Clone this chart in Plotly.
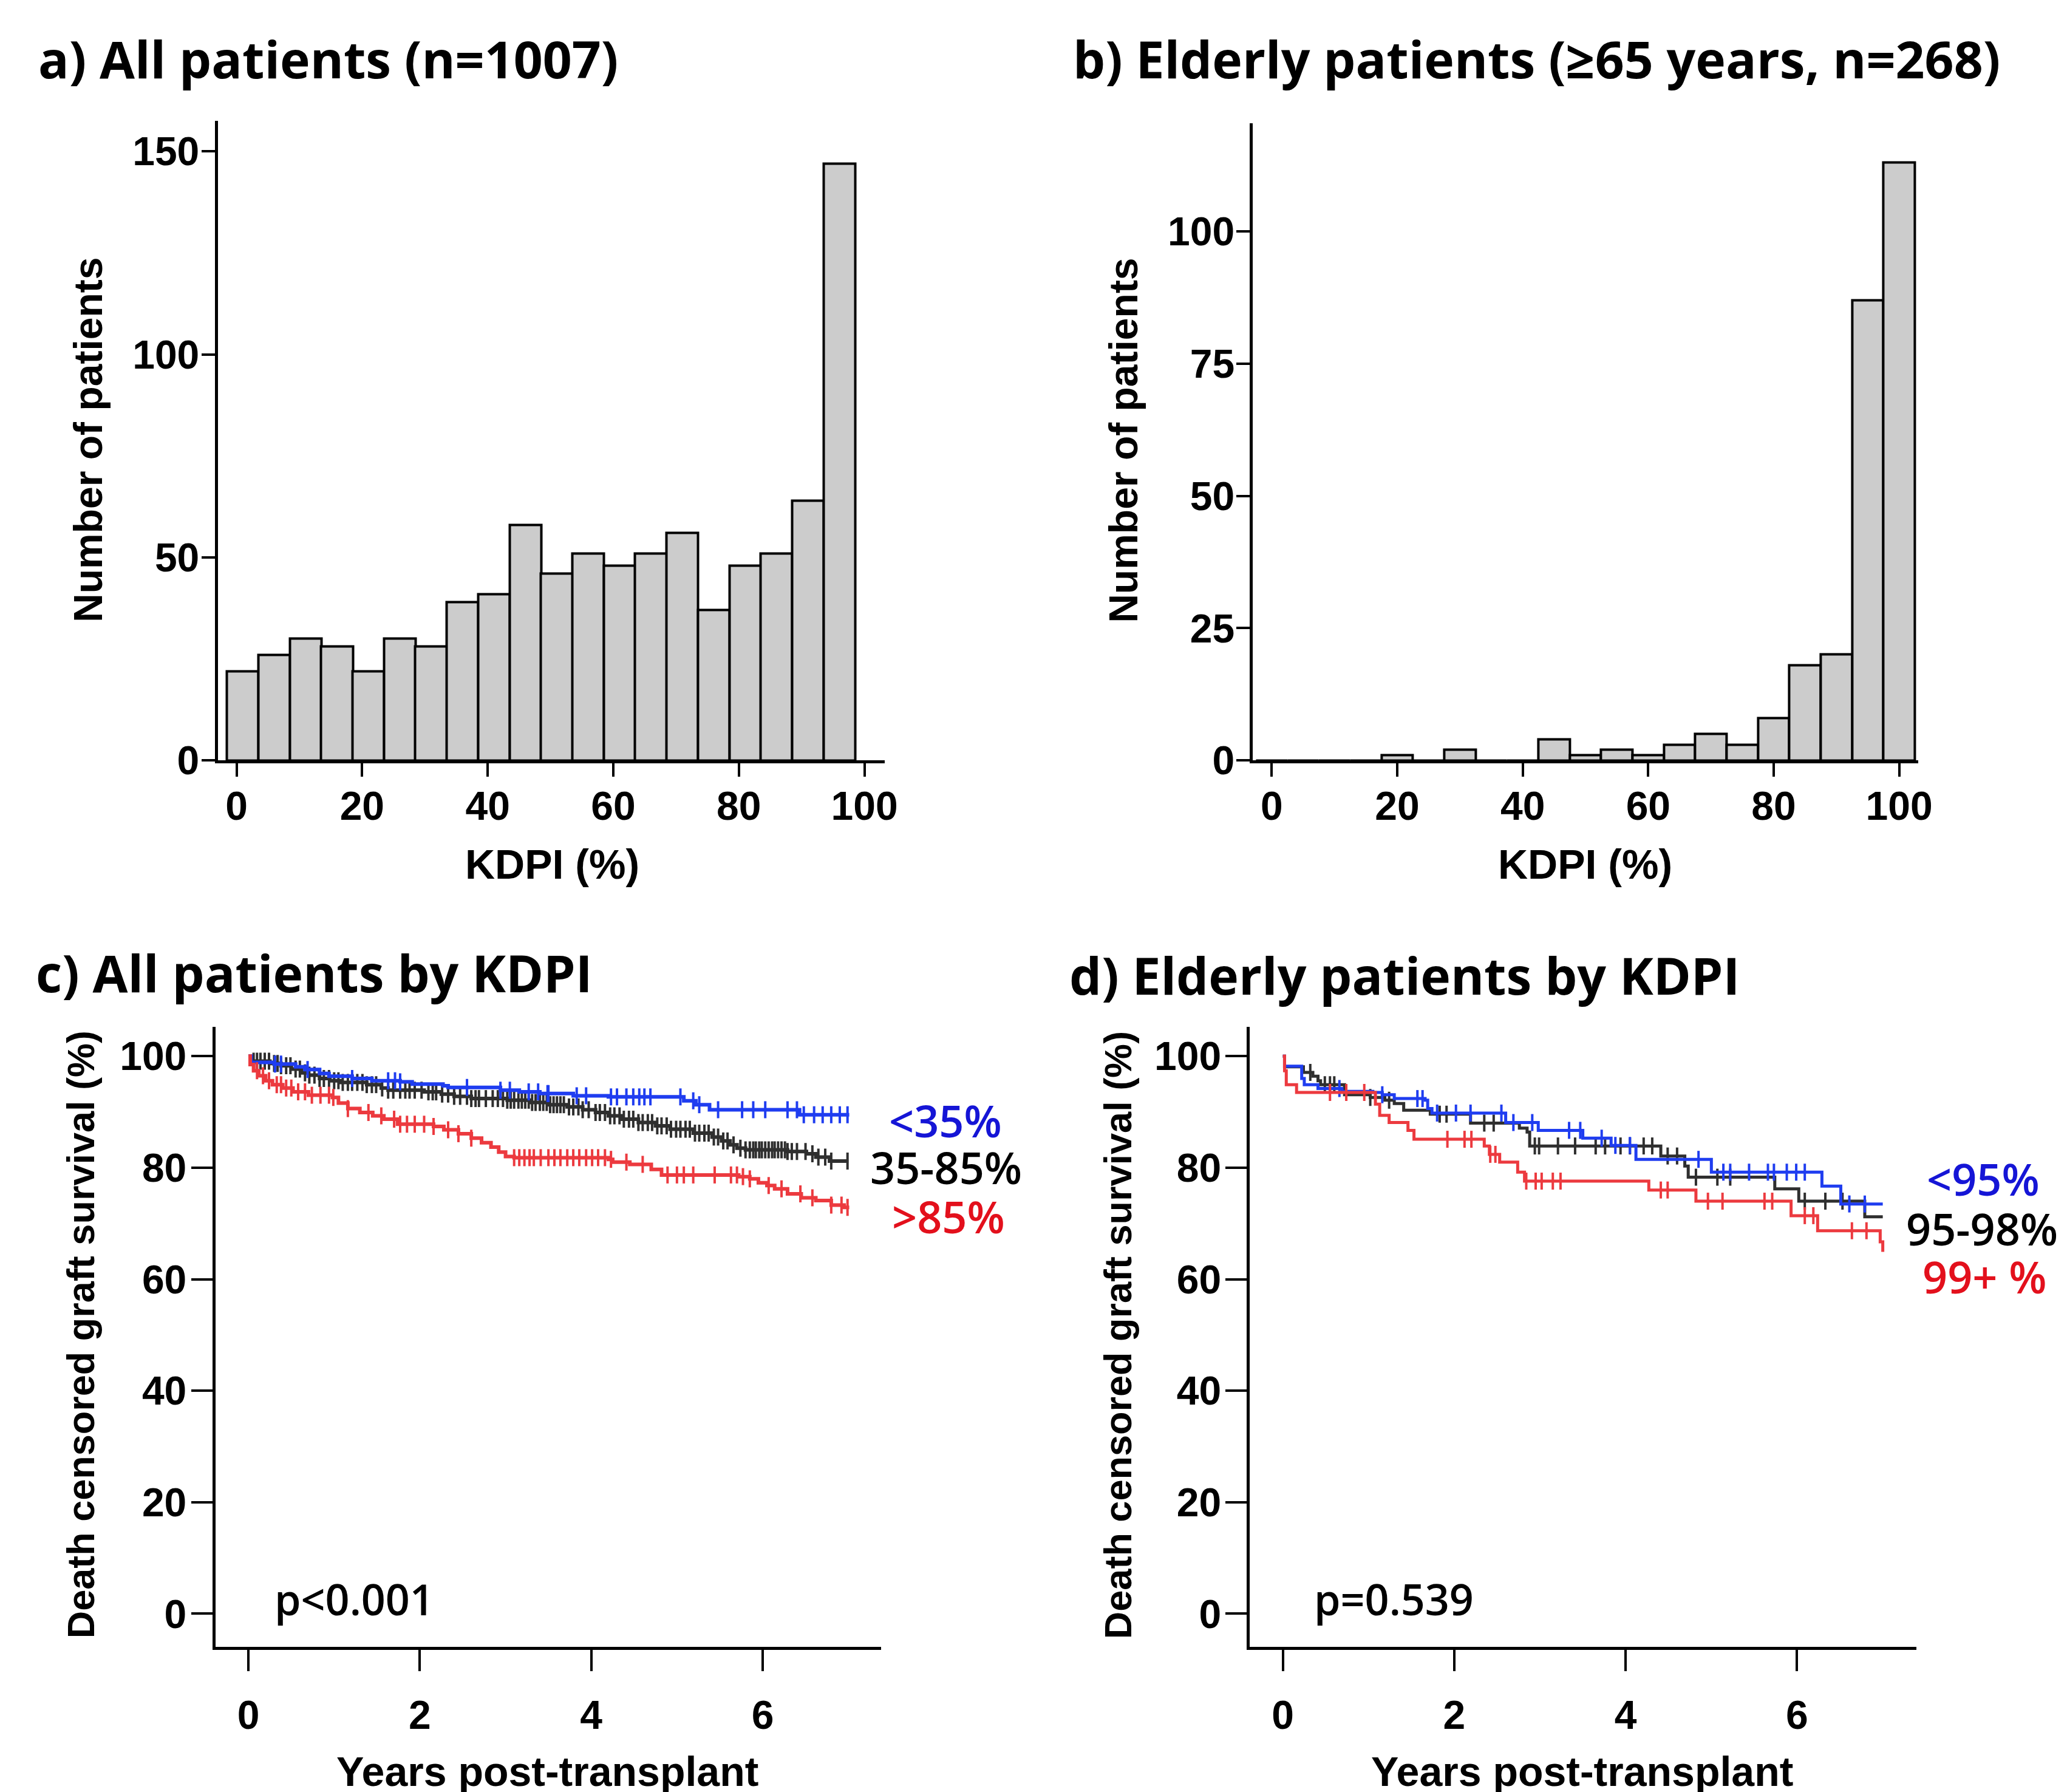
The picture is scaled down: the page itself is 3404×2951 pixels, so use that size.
import plotly.graph_objects as go
import numpy as np

W, H = 3404, 2951

# ---------------- data ----------------
# a) histogram, all patients
kdpi_all_centers = [1, 6, 11, 16, 21, 26, 31, 36, 41, 46, 51, 56, 61, 66, 71, 76, 81, 86, 91, 96]
kdpi_all_counts = [22, 26, 30, 28, 22, 30, 28, 39, 41, 58, 46, 51, 48, 51, 56, 37, 48, 51, 64, 147]

# b) histogram, elderly patients
kdpi_old_centers = [0, 5, 10, 15, 20, 25, 30, 35, 40, 45, 50, 55, 60, 65, 70, 75, 80, 85, 90, 95, 100]
kdpi_old_counts = [0, 0, 0, 0, 1, 0, 2, 0, 0, 4, 1, 2, 1, 3, 5, 3, 8, 18, 20, 87, 113]

# c) KM, all patients by KDPI  (time in years, survival %)
c_lt35_t = [0, 0.03, 0.30, 0.55, 0.66, 0.83, 0.94, 1.21, 1.44, 1.77, 1.91, 2.27, 2.33, 2.94, 3.16, 3.40,
            3.79, 4.20, 5.08, 5.22, 5.38, 6.43, 7.01]
c_lt35_s = [100, 98.9, 98.6, 98.1, 97.6, 96.9, 96.4, 96.0, 95.6, 95.4, 95.0, 94.7, 94.4, 93.9, 93.6, 93.3,
            92.9, 92.7, 92.0, 91.3, 90.4, 89.5, 89.5]
c_lt35_cens = [0.31, 0.38, 0.69, 1.21, 1.63, 1.71, 1.77, 2.55, 2.94, 3.05, 3.27, 3.38, 3.49, 3.50, 3.83, 3.94,
               4.23, 4.30, 4.41, 4.49, 4.56, 4.62, 4.69, 5.04, 5.19, 5.26, 5.48, 5.76, 5.89, 6.03, 6.29, 6.40,
               6.48, 6.60, 6.70, 6.80, 6.90, 6.99]

c_mid_t = [0, 0.02, 0.25, 0.38, 0.50, 0.62, 0.70, 0.83, 0.95, 1.08, 1.38, 1.55, 1.63, 2.05, 2.25, 2.40, 2.60,
           3.02, 3.30, 3.50, 3.72, 3.90, 4.05, 4.20, 4.35, 4.55, 4.75, 4.92, 5.19, 5.41, 5.52, 5.62, 5.70,
           5.80, 6.29, 6.51, 6.62, 6.78, 7.00]
c_mid_s = [100, 99.1, 98.7, 98.3, 97.7, 97.0, 96.6, 96.0, 95.6, 95.3, 94.9, 94.3, 93.9, 93.6, 93.2, 92.8, 92.4,
           92.1, 91.7, 91.3, 90.9, 90.4, 89.9, 89.3, 88.7, 88.1, 87.5, 86.9, 86.2, 85.5, 84.8, 84.1, 83.5,
           83.2, 82.9, 82.5, 81.9, 81.2, 81.2]
c_mid_cens = [0.06, 0.10, 0.14, 0.19, 0.24, 0.30, 0.34, 0.38, 0.44, 0.49, 0.55, 0.60, 0.66, 0.71, 0.77, 0.83,
              0.88, 0.94, 1.00, 1.05, 1.10, 1.16, 1.21, 1.27, 1.33, 1.38, 1.44, 1.49, 1.56, 1.63, 1.69, 1.77,
              1.83, 1.88, 1.94, 2.02, 2.10, 2.15, 2.19, 2.26, 2.33, 2.40, 2.47, 2.55, 2.60, 2.65, 2.69, 2.77,
              2.85, 2.91, 2.97, 3.02, 3.06, 3.10, 3.15, 3.19, 3.23, 3.27, 3.31, 3.35, 3.40, 3.44, 3.48, 3.52,
              3.56, 3.60, 3.64, 3.68, 3.74, 3.79, 3.85, 3.90, 3.97, 4.05, 4.10, 4.16, 4.22, 4.27, 4.33, 4.38,
              4.44, 4.49, 4.55, 4.60, 4.66, 4.71, 4.77, 4.82, 4.88, 4.93, 4.99, 5.04, 5.10, 5.15, 5.21, 5.26,
              5.32, 5.37, 5.43, 5.48, 5.54, 5.59, 5.66, 5.74, 5.80, 5.85, 5.89, 5.92, 5.96, 5.99, 6.03, 6.07,
              6.11, 6.14, 6.18, 6.22, 6.26, 6.29, 6.34, 6.40, 6.50, 6.58, 6.65, 6.73, 6.80, 6.99]

c_gt85_t = [0, 0.02, 0.06, 0.12, 0.20, 0.28, 0.40, 0.52, 0.70, 0.98, 1.05, 1.16, 1.30, 1.45, 1.58, 1.74, 2.16,
            2.28, 2.45, 2.60, 2.72, 2.83, 2.92, 3.00, 3.10, 4.20, 4.25, 4.45, 4.70, 4.82, 5.72, 5.85, 5.95,
            6.05, 6.14, 6.29, 6.45, 6.62, 6.80, 6.95, 7.01]
c_gt85_s = [100, 98.5, 97.4, 96.5, 95.6, 94.9, 94.3, 93.6, 93.0, 92.6, 91.6, 90.6, 89.9, 89.3, 88.7, 87.8, 87.4,
            86.8, 86.1, 85.3, 84.5, 83.7, 82.8, 82.0, 81.8, 81.5, 81.0, 80.6, 79.7, 78.7, 78.4, 78.0, 77.3,
            76.8, 76.2, 75.3, 74.6, 74.1, 73.3, 72.9, 72.9]
c_gt85_cens = [0.10, 0.17, 0.24, 0.33, 0.38, 0.44, 0.50, 0.58, 0.66, 0.74, 0.84, 0.94, 0.99, 1.16, 1.40, 1.55,
               1.70, 1.77, 1.85, 1.94, 2.05, 2.16, 2.33, 2.45, 2.60, 3.10, 3.16, 3.22, 3.28, 3.33, 3.41, 3.50,
               3.57, 3.64, 3.72, 3.79, 3.86, 3.94, 4.01, 4.08, 4.16, 4.23, 4.41, 4.60, 4.89, 5.00, 5.08, 5.19,
               5.44, 5.63, 5.70, 5.77, 5.85, 6.07, 6.22, 6.44, 6.58, 6.80, 6.92, 6.99]

# d) KM, elderly patients by KDPI
d_lt95_t = [0, 0.02, 0.22, 0.25, 0.41, 0.69, 1.05, 1.16, 1.30, 1.66, 1.69, 1.74, 2.60, 2.98, 3.50, 3.83, 4.12,
            5.00, 6.29, 6.51, 7.00]
d_lt95_s = [100, 98.2, 96.0, 94.9, 94.2, 93.7, 93.5, 93.1, 92.4, 92.1, 90.6, 89.8, 88.1, 86.7, 85.3, 84.0, 81.5,
            79.2, 76.7, 73.5, 73.5]
d_lt95_cens = [0.66, 1.16, 1.57, 1.63, 1.80, 2.02, 2.19, 2.55, 2.69, 2.91, 3.34, 3.47, 3.72, 3.88, 4.05, 4.85,
               5.14, 5.22, 5.44, 5.66, 5.73, 5.88, 5.99, 6.09, 6.61, 6.79]

d_mid_t = [0, 0.02, 0.24, 0.35, 0.41, 0.44, 0.72, 1.02, 1.19, 1.30, 1.41, 1.72, 2.19, 2.76, 2.85, 2.88, 4.41,
           4.69, 4.73, 5.74, 6.02, 6.79, 7.00]
d_mid_s = [100, 98.1, 97.1, 96.4, 95.6, 94.9, 93.1, 92.6, 92.1, 91.5, 90.3, 89.6, 88.0, 87.1, 86.4, 83.9, 82.1,
           80.3, 78.3, 76.2, 74.0, 71.2, 71.2]
d_mid_cens = [0.32, 0.49, 0.55, 0.60, 1.02, 1.24, 1.83, 1.91, 2.35, 2.46, 2.94, 2.99, 3.21, 3.41, 3.65, 3.76,
              3.94, 4.05, 4.21, 4.31, 4.49, 4.60, 4.82, 5.07, 5.22, 6.09, 6.33, 6.53]

d_99_t = [0, 0.02, 0.04, 0.16, 1.08, 1.13, 1.24, 1.46, 1.53, 2.35, 2.41, 2.53, 2.74, 2.82, 4.27, 4.82, 5.93,
          6.24, 6.97, 7.00]
d_99_s = [100, 97.4, 94.9, 93.5, 91.4, 89.4, 88.1, 86.7, 85.1, 83.9, 82.4, 81.0, 79.2, 77.6, 76.0, 74.0, 71.4,
          68.7, 66.7, 64.9]
d_99_cens = [0.55, 0.74, 0.95, 1.92, 2.12, 2.20, 2.42, 2.48, 2.84, 2.95, 3.02, 3.15, 3.24, 4.41, 4.49, 4.96,
             5.13, 5.62, 5.71, 6.09, 6.19, 6.64, 6.81]

c_labels = ["<35%", "35-85%", ">85%"]
d_labels = ["<95%", "95-98%", "99+ %"]

BLUE = "#1f3df0"
GREY = "#2f2f2f"
RED = "#ec3a3f"
LBL_BLUE = "#1515d6"
LBL_RED = "#e3101c"

# ---------------- helpers ----------------
def xdom(x0, x1):
    return [x0 / W, x1 / W]

def ydom(top, bottom):
    return [1 - bottom / H, 1 - top / H]

def step_at(ts, ss, tc):
    ts = np.asarray(ts)
    ss = np.asarray(ss)
    idx = np.searchsorted(ts, np.asarray(tc), side="right") - 1
    idx = np.clip(idx, 0, len(ss) - 1)
    return ss[idx]

fig = go.Figure()

# histograms
fig.add_trace(go.Bar(x=kdpi_all_centers, y=kdpi_all_counts, width=5.05,
                     marker=dict(color="#cccccc", line=dict(color="black", width=4)),
                     xaxis="x", yaxis="y", showlegend=False))
fig.add_trace(go.Bar(x=kdpi_old_centers, y=kdpi_old_counts, width=5.0,
                     marker=dict(color="#cccccc", line=dict(color="black", width=4)),
                     xaxis="x2", yaxis="y2", showlegend=False))

# KM curves
def add_km(ts, ss, cens, color, xa, ya, lw, msize):
    fig.add_trace(go.Scatter(x=ts, y=ss, mode="lines", line=dict(color=color, width=lw, shape="hv"),
                             xaxis=xa, yaxis=ya, showlegend=False))
    fig.add_trace(go.Scatter(x=cens, y=step_at(ts, ss, cens), mode="markers",
                             marker=dict(symbol="line-ns", size=msize, line=dict(color=color, width=4)),
                             xaxis=xa, yaxis=ya, showlegend=False))

add_km(c_mid_t, c_mid_s, c_mid_cens, GREY, "x3", "y3", 6, 20)
add_km(c_lt35_t, c_lt35_s, c_lt35_cens, BLUE, "x3", "y3", 6, 20)
add_km(c_gt85_t, c_gt85_s, c_gt85_cens, RED, "x3", "y3", 6, 20)

add_km(d_mid_t, d_mid_s, d_mid_cens, GREY, "x4", "y4", 5, 20)
add_km(d_lt95_t, d_lt95_s, d_lt95_cens, BLUE, "x4", "y4", 5, 20)
add_km(d_99_t, d_99_s, d_99_cens, RED, "x4", "y4", 5, 20)

tickfont = dict(family="Liberation Sans, Arial", size=66, color="black", weight="bold")

def axis(dom, rng, tickvals, ticklen, anchor, standoff=0):
    return dict(domain=dom, range=rng, tickvals=tickvals, ticks="outside", ticklen=ticklen, tickwidth=4,
                tickcolor="black", showline=True, linecolor="black", linewidth=5, showgrid=False,
                zeroline=False, tickfont=tickfont, anchor=anchor, fixedrange=True,
                ticklabelstandoff=standoff)

fig.update_layout(
    width=W, height=H, autosize=False, margin=dict(l=0, r=0, t=0, b=0),
    paper_bgcolor="white", plot_bgcolor="white", bargap=0,
    xaxis=axis(xdom(353, 1459), [-3.0, 103.2], [0, 20, 40, 60, 80, 100], 22, "y", -8),
    yaxis=axis(ydom(193, 1260), [0, 157.6], [0, 50, 100, 150], 22, "x", -10),
    xaxis2=axis(xdom(2070, 3173), [-3.0, 103.0], [0, 20, 40, 60, 80, 100], 22, "y2", -8),
    yaxis2=axis(ydom(197, 1260), [0, 120.5], [0, 25, 50, 75, 100], 22, "x2", -10),
    xaxis3=axis(xdom(349, 1453), [-0.387, 7.38], [0, 2, 4, 6], 35, "y3", 16),
    yaxis3=axis(ydom(1704, 2738), [-5.9, 105.3], [0, 20, 40, 60, 80, 100], 35, "x3", -6),
    xaxis4=axis(xdom(2065, 3170), [-0.384, 7.39], [0, 2, 4, 6], 35, "y4", 16),
    yaxis4=axis(ydom(1704, 2738), [-5.9, 105.3], [0, 20, 40, 60, 80, 100], 35, "x4", -6),
)

anns = []
def ann(text, x, y, size, family, color="black", weight="normal", angle=0, xanchor="center"):
    anns.append(dict(text=text, x=x / W, y=1 - y / H, xref="paper", yref="paper", showarrow=False,
                     xanchor=xanchor, yanchor="middle", textangle=angle, borderpad=0,
                     font=dict(family=family, size=size, color=color, weight=weight)))

TF = "Open Sans"
ann("a) All patients (n=1007)", 54, 90, 84, TF, weight="bold", xanchor="left")
ann("b) Elderly patients (≥65 years, n=268)", 1770, 90, 84, TF, weight="bold", xanchor="left")
ann("c) All patients by KDPI", 50, 1614, 84, TF, weight="bold", xanchor="left")
ann("d) Elderly patients by KDPI", 1764, 1618, 84, TF, weight="bold", xanchor="left")

AF = "Liberation Sans, Arial"
ann("Number of patients", 138, 726, 66, AF, weight="bold", angle=-90)
ann("Number of patients", 1855, 726, 66, AF, weight="bold", angle=-90)
ann("KDPI (%)", 908, 1433, 68, AF, weight="bold")
ann("KDPI (%)", 2621, 1433, 68, AF, weight="bold")
ann("Death censored graft survival (%)", 126, 2218, 63, AF, weight="bold", angle=-90)
ann("Death censored graft survival (%)", 1846, 2218, 63, AF, weight="bold", angle=-90)
ann("Years post-transplant", 900, 2946, 68, AF, weight="bold")
ann("Years post-transplant", 2616, 2946, 68, AF, weight="bold")

# group labels
LS = 72
ann(c_labels[0], 1560, 1860, LS, TF, color=LBL_BLUE, weight=600)
ann(c_labels[1], 1561, 1938, LS, TF, color="black", weight=600)
ann(c_labels[2], 1565, 2020, LS, TF, color=LBL_RED, weight=600)
ann(d_labels[0], 3281, 1958, LS, TF, color=LBL_BLUE, weight=600)
ann(d_labels[1], 3279, 2041, LS, TF, color="black", weight=600)
ann(d_labels[2], 3283, 2121, LS, TF, color=LBL_RED, weight=600)

# p-values
ann("p<0.001", 446, 2658, 70, TF, weight=600, xanchor="left")
ann("p=0.539", 2170, 2658, 70, TF, weight=600, xanchor="left")

fig.update_layout(annotations=anns)
fig.write_html("out.html")
